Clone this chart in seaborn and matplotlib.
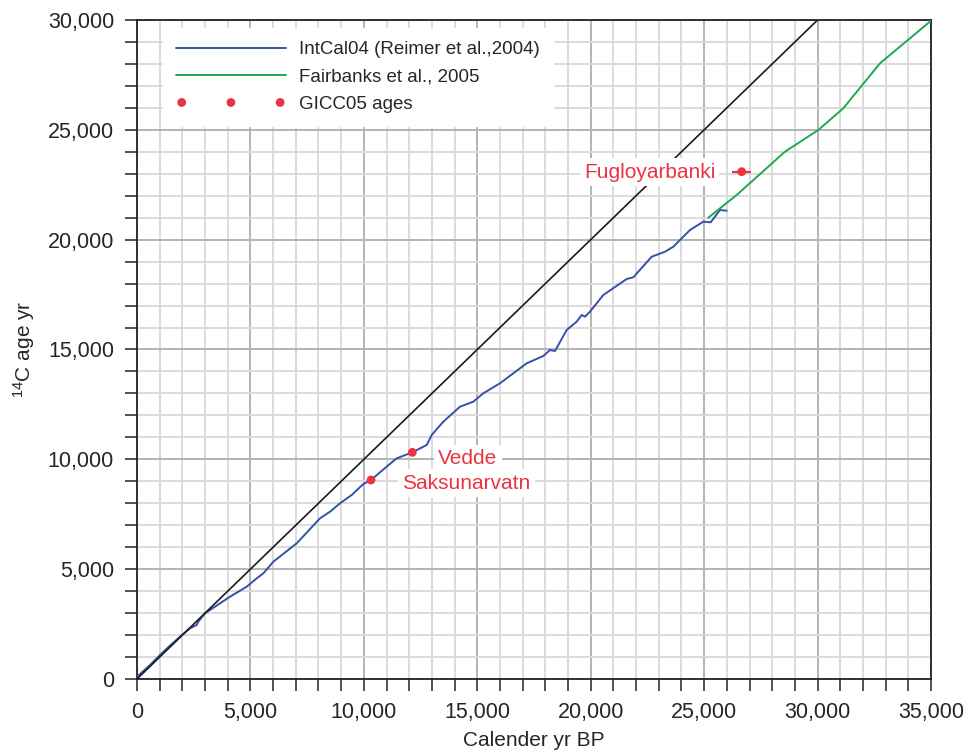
import matplotlib
matplotlib.use("Agg")
import matplotlib.pyplot as plt
from matplotlib.ticker import MultipleLocator, FuncFormatter
import seaborn as sns

# IntCal04 calibration curve
intcal_cal = [0, 573, 1160, 1895, 2336, 2630, 2703, 2997, 4100, 4835, 5276, 5570,
              6010, 7040, 8067, 8507, 8948, 9463, 9977, 10315, 11005, 11446, 12137,
              12770, 12990, 13502, 14238, 14825, 15266, 16001, 17178, 17910, 18205,
              18425, 18940, 19381, 19602, 19748, 19968, 20556, 21585, 21877, 22688,
              23274, 23641, 24376, 24963, 25288, 25698, 25993]
intcal_c14 = [100, 637, 1243, 1927, 2308, 2458, 2610, 2990, 3747, 4202, 4583, 4810,
              5340, 6177, 7315, 7615, 7998, 8376, 8877, 9059, 9666, 10045, 10318,
              10652, 11108, 11713, 12397, 12625, 13006, 13462, 14372, 14704, 14977,
              14931, 15888, 16267, 16570, 16494, 16722, 17481, 18210, 18286, 19224,
              19452, 19680, 20440, 20818, 20790, 21350, 21319]

# Fairbanks et al., 2005
fair_cal = [25184, 26434, 28564, 30032, 31134, 32751, 34986]
fair_c14 = [21000, 22033, 24005, 24992, 25980, 28028, 29954]

# 1:1 reference line
ref_cal = [0, 30000]
ref_c14 = [0, 30000]

# GICC05 ages
gicc_names = ["Saksunarvatn", "Vedde", "Fugloyarbanki"]
gicc_cal = [10315, 12137, 26654]
gicc_c14 = [9059, 10318, 23094]
gicc_xerr = [0, 0, 420]
gicc_yerr = [90, 0, 130]

# label positions (cal yr, 14C yr)
label_cal = [14524, 14590, 22590]
label_c14 = [8922, 10030, 23080]

sns.set_style("white")
plt.rcParams["font.family"] = ["Liberation Sans", "DejaVu Sans"]
plt.rcParams["mathtext.fontset"] = "custom"
plt.rcParams["mathtext.rm"] = "Liberation Sans"

blue = "#3352a8"
green = "#1fa84f"
red = "#ee3340"

fig = plt.figure(figsize=(9.65, 7.53), dpi=100)
ax = fig.add_axes([137 / 965, 74 / 753, 794 / 965, 659 / 753])

sns.lineplot(x=intcal_cal, y=intcal_c14, ax=ax, color=blue, lw=1.4,
             label="IntCal04 (Reimer et al.,2004)", zorder=3)
sns.lineplot(x=fair_cal, y=fair_c14, ax=ax, color=green, lw=1.4,
             label="Fairbanks et al., 2005", zorder=3)
sns.lineplot(x=ref_cal, y=ref_c14, ax=ax, color="#1a1a1a", lw=1.2, zorder=3)
sns.scatterplot(x=gicc_cal, y=gicc_c14, ax=ax, color=red, s=40, edgecolor="none",
                label="GICC05 ages", zorder=7)
ax.errorbar(gicc_cal, gicc_c14, xerr=gicc_xerr, yerr=gicc_yerr, fmt="none",
            ecolor=red, elinewidth=1.6, capsize=0, zorder=7, label="_nolegend_")

for name, lx, ly in zip(gicc_names, label_cal, label_c14):
    ax.text(lx, ly, name, color=red, fontsize=15, ha="center", va="center", zorder=6,
            bbox=dict(boxstyle="square,pad=0.2", fc="white", ec="none"))

ax.set_xlim(0, 35000)
ax.set_ylim(0, 30000)
ax.xaxis.set_major_locator(MultipleLocator(5000))
ax.xaxis.set_minor_locator(MultipleLocator(1000))
ax.yaxis.set_major_locator(MultipleLocator(5000))
ax.yaxis.set_minor_locator(MultipleLocator(1000))
fmt = FuncFormatter(lambda v, p: f"{v:,.0f}")
ax.xaxis.set_major_formatter(fmt)
ax.yaxis.set_major_formatter(fmt)

ax.grid(which="minor", color="#dadada", lw=1.4)
ax.grid(which="major", color="#b3b3b3", lw=1.4)
ax.set_axisbelow(True)

ax.tick_params(which="both", direction="out", length=8.5, width=1.1,
               color="#222222", bottom=True, left=True)
ax.tick_params(which="major", labelsize=15.5, pad=8)
for s in ax.spines.values():
    s.set_color("#222222")
    s.set_linewidth(1.3)

ax.set_xlabel("Calender yr BP", fontsize=15, labelpad=6)
ax.set_ylabel(r"$\mathregular{^{14}}$C age yr", fontsize=15, labelpad=8)

leg = ax.legend(loc="upper left", bbox_to_anchor=(0.0327, 0.988), borderaxespad=0,
                fontsize=13.5, handlelength=5.85, handletextpad=0.7,
                labelspacing=0.55, scatterpoints=3, scatteryoffsets=[0.5],
                frameon=True, framealpha=1, edgecolor="white", fancybox=False,
                borderpad=0.7)
leg.get_frame().set_facecolor("white")

fig.savefig("out.png", dpi=100)
